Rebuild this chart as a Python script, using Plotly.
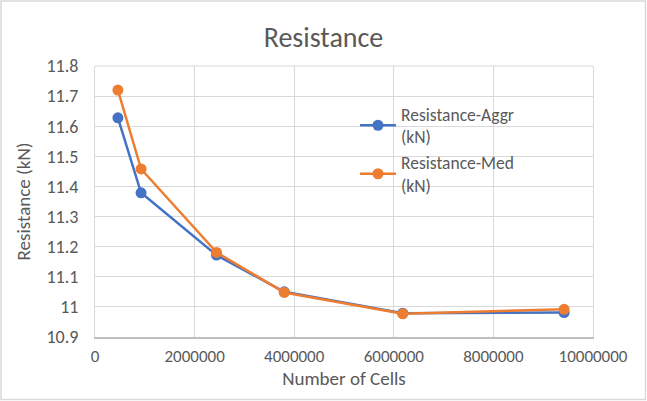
import plotly.graph_objects as go

cells = [460000, 925000, 2440000, 3800000, 6180000, 9420000]
aggr = [11.628, 11.379, 11.172, 11.05, 10.979, 10.981]
med = [11.72, 11.458, 11.181, 11.048, 10.977, 10.992]
names = ["Resistance-Aggr<br>(kN)", "Resistance-Med<br>(kN)"]

W, H = 647, 401
L, R, T, B = 95, 54, 66, 64
font = "Calibri, Carlito, Lato, sans-serif"

fig = go.Figure()
for y, c, n in [(aggr, "#4472C4", names[0]), (med, "#ED7D31", names[1])]:
    fig.add_trace(go.Scatter(x=cells, y=y, mode="lines+markers", name=n,
                             line=dict(color=c, width=2.5),
                             marker=dict(color=c, size=11)))

pw, ph = W - L - R, H - T - B
# outer chart border
fig.add_shape(type="rect", xref="paper", yref="paper",
              x0=-(L - 1) / pw, x1=1 + (R - 1.5) / pw,
              y0=-(B - 1.5) / ph, y1=1 + (T - 1) / ph,
              line=dict(color="#d9d9d9", width=1.5), layer="below")
# top gridline of plot area
fig.add_shape(type="line", xref="paper", yref="paper", x0=0, x1=1, y0=1, y1=1,
              line=dict(color="#d9d9d9", width=1), layer="below")

fig.update_layout(
    width=W, height=H, margin=dict(l=L, r=R, t=T, b=B),
    paper_bgcolor="white", plot_bgcolor="white",
    font=dict(family=font, color="#595959", size=17),
    title=dict(text="Resistance", x=0.5, xanchor="center", y=1 - 37 / H, yanchor="middle",
               font=dict(size=28, color="#595959")),
    xaxis=dict(range=[0, 10000000], dtick=2000000, tickformat="d",
               showgrid=True, gridcolor="#d9d9d9", gridwidth=1,
               showline=True, linecolor="#bfbfbf", linewidth=1.5,
               zeroline=False, ticks="", ticklen=0, ticklabelstandoff=3,
               title=dict(text="Number of Cells", font=dict(size=19), standoff=5),
               tickfont=dict(size=17)),
    yaxis=dict(range=[10.9, 11.8], dtick=0.1, tickformat="~g",
               showgrid=True, gridcolor="#d9d9d9", gridwidth=1,
               zeroline=False, showline=True, linecolor="#d9d9d9", linewidth=1, mirror=True,
               ticks="", ticklabelstandoff=12,
               title=dict(text="Resistance (kN)", font=dict(size=19), standoff=10),
               tickfont=dict(size=18)),
    legend=dict(x=(355 - L) / pw, y=1 - (96 - T) / ph, xanchor="left", yanchor="top",
                bgcolor="rgba(0,0,0,0)", font=dict(size=17.5, color="#595959"),
                itemwidth=36, tracegroupgap=0),
    showlegend=True,
)

fig.write_html("out.html", config={"displayModeBar": False},
               post_script="document.body.style.margin='0';document.body.style.overflow='hidden';")
